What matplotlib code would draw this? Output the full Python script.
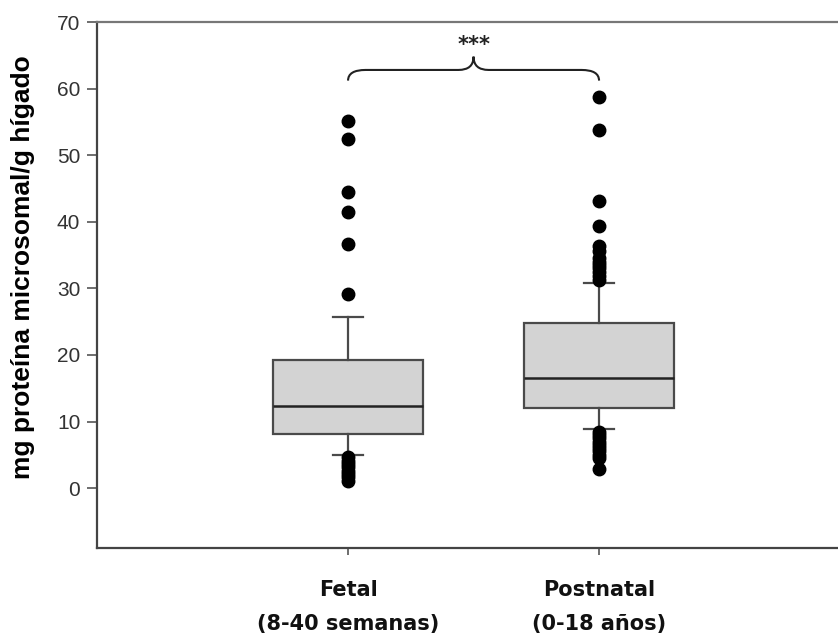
import matplotlib
matplotlib.use("Agg")
import matplotlib.pyplot as plt
from matplotlib.path import Path
from matplotlib.patches import PathPatch

# group labels and box statistics
groups = ["Fetal\n(8-40 semanas)", "Postnatal\n(0-18 años)"]
q1 = [8.2, 12.1]
medians = [12.3, 16.5]
q3 = [19.2, 24.8]
whis_lo = [4.9, 8.9]
whis_hi = [25.7, 30.8]
fliers_fetal = [55.2, 52.4, 44.5, 41.5, 36.6, 29.2,
                4.6, 4.1, 3.6, 3.1, 2.6, 2.1, 1.6, 1.1]
fliers_postnatal = [58.7, 53.8, 43.1, 39.3, 36.3, 35.6, 34.6, 34.0, 33.5,
                    33.0, 32.4, 31.8, 31.3,
                    8.5, 8.0, 7.5, 7.0, 6.5, 6.0, 5.5, 5.0, 4.5, 2.8]
signif = "***"

fig = plt.figure(figsize=(8.38, 6.38), dpi=100)
ax = fig.add_axes([0.1158, 0.141, 0.8986, 0.8245])

stats = []
for i, fl in enumerate([fliers_fetal, fliers_postnatal]):
    stats.append(dict(q1=q1[i], med=medians[i], q3=q3[i],
                      whislo=whis_lo[i], whishi=whis_hi[i], fliers=fl))

edge = "#4a4a4a"
ax.bxp(stats, positions=[1, 2], widths=0.6, patch_artist=True,
       boxprops=dict(facecolor="#d3d3d3", edgecolor=edge, linewidth=1.6),
       medianprops=dict(color="#222222", linewidth=1.8),
       whiskerprops=dict(color=edge, linewidth=1.6),
       capprops=dict(color=edge, linewidth=1.6),
       capwidths=0.12,
       flierprops=dict(marker="o", markerfacecolor="black",
                       markeredgecolor="black", markersize=9))

# curly brace with significance stars
y0, yf, yp = 61.2, 62.8, 64.8
verts = [(1.0, y0), (1.0, yf), (1.07, yf),
         (1.44, yf), (1.5, yf), (1.5, yp),
         (1.5, yf), (1.56, yf),
         (1.93, yf), (2.0, yf), (2.0, y0)]
codes = [Path.MOVETO, Path.CURVE3, Path.CURVE3,
         Path.LINETO, Path.CURVE3, Path.CURVE3,
         Path.CURVE3, Path.CURVE3,
         Path.LINETO, Path.CURVE3, Path.CURVE3]
ax.add_patch(PathPatch(Path(verts, codes), fill=False, edgecolor="#222222", lw=1.5))
ax.text(1.5, 66.6, signif, ha="center", va="center", fontsize=15,
        family="DejaVu Sans", fontweight="bold", color="#222222")

ax.set_xlim(0, 3)
ax.set_ylim(-9, 70)
ax.set_yticks(range(0, 71, 10))
ax.set_xticks([1, 2])
ax.set_xticklabels(groups, family="DejaVu Sans", fontsize=15, linespacing=1.9,
                   fontweight="bold", color="#111111")
for lab in ax.get_yticklabels():
    lab.set_family("Liberation Sans")
    lab.set_fontsize(15)
    lab.set_color("#333333")
ax.tick_params(axis="y", length=7, width=1.2, color="#555555", pad=5)
ax.tick_params(axis="x", length=5, width=1.2, color="#555555", pad=18)

ax.set_ylabel("mg proteína microsomal/g hígado", family="Liberation Sans",
              fontsize=19, fontweight="bold")
ax.yaxis.set_label_coords(-0.083, 0.534)

ax.spines["right"].set_visible(False)
for s in ["left", "bottom", "top"]:
    ax.spines[s].set_color("#444444")
    ax.spines[s].set_linewidth(1.6)
ax.spines["top"].set_color("#777777")

fig.savefig("out.png", dpi=100)
